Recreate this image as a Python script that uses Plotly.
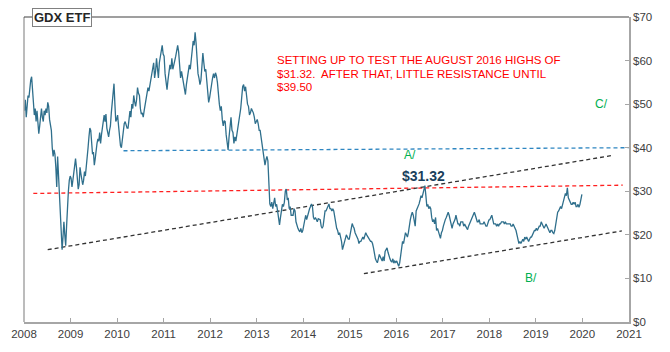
import numpy as np
import pandas as pd
import plotly.graph_objects as go

# ---- GDX weekly closes, one list per year ----
gdx_2008 = [48.5, 51.0, 47.0, 50.5, 52.0, 51.5, 54.0, 55.5, 56.3, 53.0, 48.5, 47.5,
            49.0, 46.0, 48.5, 44.5, 43.2, 45.0, 47.5, 49.0, 47.0, 46.0, 48.5, 47.5,
            49.0, 48.0, 50.4, 49.5, 46.5, 45.0, 44.0, 40.0, 38.0, 39.5, 38.5, 35.5,
            31.0, 38.0, 34.0, 29.0, 24.0, 20.0, 16.6, 19.5, 23.0, 20.0, 17.5, 22.0,
            27.0, 30.0, 32.5, 33.5]
gdx_2009 = [33.0, 31.0, 32.5, 34.5, 35.0, 37.5, 35.5, 33.0, 30.5, 31.5, 35.5, 34.0,
            33.0, 31.5, 32.5, 34.5, 33.5, 36.5, 38.0, 40.0, 42.5, 44.5, 44.0, 41.0,
            38.5, 39.0, 36.0, 37.5, 40.5, 41.0, 42.0, 41.5, 43.5, 41.0, 43.0, 44.8,
            46.5, 47.5, 46.0, 47.7, 44.5, 43.0, 42.5, 44.0, 45.0, 48.0, 50.0, 52.0,
            54.7, 50.0, 46.0, 46.5]
gdx_2010 = [47.5, 45.0, 42.0, 40.5, 40.0, 42.5, 44.0, 45.5, 46.0, 45.0, 44.5, 44.5,
            46.5, 48.4, 47.0, 50.0, 49.0, 52.0, 50.5, 49.5, 51.0, 53.8, 52.5, 52.0,
            49.0, 47.7, 48.0, 47.0, 48.5, 50.0, 51.5, 53.0, 53.8, 53.0, 54.5, 56.0,
            57.0, 58.0, 59.5, 56.0, 57.5, 60.5, 58.5, 56.0, 59.5, 61.0, 62.0, 63.5,
            61.5]
gdx_2011 = [61.0, 57.0, 54.5, 53.3, 55.5, 57.5, 59.0, 58.0, 60.5, 58.0, 59.5, 60.0,
            61.0, 62.0, 63.5, 62.0, 58.5, 56.0, 57.5, 56.0, 54.5, 53.5, 52.2, 54.5,
            56.0, 57.5, 59.0, 58.0, 60.5, 62.5, 64.5, 63.5, 66.5, 64.0, 60.0, 57.0,
            56.0, 54.5, 55.5, 58.5, 61.7, 59.5, 57.5, 58.0, 55.0, 52.0, 50.4, 51.5]
gdx_2012 = [53.5, 54.5, 56.0, 57.0, 56.0, 57.2, 56.5, 55.0, 51.5, 50.0, 48.5, 49.5,
            46.5, 45.0, 46.2, 46.0, 43.0, 40.5, 39.5, 42.5, 46.0, 47.0, 44.0, 43.5,
            41.0, 42.5, 41.5, 43.0, 44.0, 45.5, 47.5, 49.0, 51.5, 54.0, 54.5, 53.0,
            54.0, 51.5, 50.0, 49.5, 47.5, 48.0, 49.0, 48.5, 48.0, 47.0, 45.5, 46.0]
gdx_2013 = [46.5, 45.5, 44.0, 44.0, 42.5, 40.0, 38.5, 37.5, 36.0, 37.2, 38.0, 37.0,
            33.0, 27.1, 26.5, 27.5, 26.0, 27.0, 28.5, 26.5, 27.0, 25.5, 23.0, 22.3,
            24.0, 25.5, 27.0, 26.5, 27.5, 30.1, 30.5, 28.0, 28.5, 26.0, 26.5, 24.5,
            24.5, 24.5, 26.0, 25.5, 23.0, 22.0, 21.5, 21.0, 20.7, 21.5, 20.5, 21.0]
gdx_2014 = [22.0, 23.5, 24.5, 23.5, 24.5, 25.5, 26.0, 26.5, 27.1, 26.5, 24.0, 23.5,
            24.0, 23.5, 23.0, 23.7, 23.5, 23.5, 22.0, 21.5, 22.0, 24.0, 25.5, 25.5,
            26.0, 26.5, 27.1, 26.0, 26.0, 25.5, 26.0, 25.5, 24.0, 22.5, 21.5, 21.0,
            20.0, 20.5, 19.5, 18.5, 16.6, 17.5, 18.5, 19.0, 20.0, 19.5, 19.0, 19.0]
gdx_2015 = [20.0, 21.5, 22.6, 22.0, 21.5, 20.5, 20.0, 19.5, 19.0, 18.0, 18.5, 18.5,
            19.0, 19.5, 19.0, 20.0, 20.5, 20.0, 19.6, 19.5, 19.0, 18.5, 18.5, 18.0,
            17.0, 15.5, 14.5, 14.0, 13.6, 14.5, 15.5, 15.0, 14.5, 14.0, 15.0, 14.0,
            16.2, 16.5, 17.0, 16.0, 15.0, 14.5, 14.0, 13.8, 14.5, 13.5, 14.0, 13.7]
gdx_2016 = [14.0, 13.5, 12.8, 13.5, 15.5, 18.0, 18.5, 18.0, 19.5, 20.5, 20.0, 19.5,
            20.5, 22.3, 23.5, 24.5, 25.2, 24.5, 23.0, 22.0, 25.5, 26.0, 26.5, 27.1,
            28.0, 29.0, 28.5, 29.5, 30.8, 31.3, 29.0, 26.5, 27.0, 26.0, 26.5, 26.0,
            24.0, 23.0, 23.5, 22.5, 24.0, 21.0, 21.5, 20.5, 20.0, 19.2, 20.5, 21.0]
gdx_2017 = [22.0, 23.0, 23.5, 24.0, 24.5, 25.2, 24.5, 23.5, 22.0, 21.5, 22.5, 23.0,
            23.5, 24.5, 23.5, 22.5, 22.5, 22.0, 23.0, 23.0, 23.0, 22.0, 22.5, 22.0,
            21.5, 21.2, 22.0, 22.5, 23.0, 23.5, 24.0, 24.5, 25.2, 24.5, 23.5, 23.0,
            23.0, 23.5, 22.5, 22.5, 22.5, 22.5, 23.0, 22.5, 22.0, 22.0, 23.0, 23.4]
gdx_2018 = [23.5, 24.1, 24.5, 23.5, 22.5, 22.5, 22.5, 22.0, 22.5, 22.0, 22.5, 22.5,
            23.0, 23.0, 23.0, 22.5, 23.0, 22.5, 22.5, 22.5, 22.5, 22.5, 22.0, 22.0,
            22.5, 22.0, 21.2, 21.0, 20.0, 18.5, 18.0, 18.5, 18.0, 18.5, 19.0, 18.5,
            19.5, 19.0, 19.5, 19.0, 18.5, 19.0, 19.5, 19.5, 20.0, 20.5, 21.0, 21.0]
gdx_2019 = [21.5, 21.0, 21.5, 22.0, 22.0, 23.0, 22.5, 22.0, 21.5, 22.0, 22.5, 22.0,
            21.5, 21.0, 20.5, 21.0, 21.0, 20.5, 20.3, 21.0, 22.5, 23.5, 25.2, 25.5,
            26.0, 26.5, 26.0, 27.0, 28.0, 28.5, 29.5, 29.0, 30.8, 28.5, 28.0, 27.5,
            27.0, 27.0, 27.5, 27.0, 27.5, 26.5, 26.5, 27.0, 26.3, 27.0, 28.0, 29.3]

years = list(range(2008, 2020))
yearly = [gdx_2008, gdx_2009, gdx_2010, gdx_2011, gdx_2012, gdx_2013,
          gdx_2014, gdx_2015, gdx_2016, gdx_2017, gdx_2018, gdx_2019]

# ---- trend / resistance lines (endpoints) ----
line_A_dates = ["2008-07-05", "2020-08-18"]
line_A_vals = [16.6, 38.2]
line_B_dates = ["2015-04-22", "2020-11-06"]
line_B_vals = [11.1, 20.9]
red_dates = ["2008-03-14", "2020-11-13"]
red_vals = [29.5, 31.4]
blue_dates = ["2010-02-20", "2021-01-01"]
blue_vals = [39.3, 40.0]

x_ticks = [str(y) for y in range(2008, 2022)]
y_ticks = list(range(0, 80, 10))
y_ticktext = ["$" + str(v) for v in y_ticks]

# build date index: values spread evenly over each year
dates, prices = [], []
for y, vals in zip(years, yearly):
    start = pd.Timestamp(f"{y}-01-01")
    days = (pd.Timestamp(f"{y+1}-01-01") - start).days
    n = len(vals)
    for i, v in enumerate(vals):
        dates.append(start + pd.Timedelta(days=(i + 0.5) / n * days))
        prices.append(v)

fig = go.Figure()
dash = "4px,3px"
fig.add_trace(go.Scatter(x=blue_dates, y=blue_vals, mode="lines",
                         line=dict(color="#2E86C1", width=1.3, dash=dash), hoverinfo="skip"))
fig.add_trace(go.Scatter(x=red_dates, y=red_vals, mode="lines",
                         line=dict(color="#FF2020", width=1.3, dash=dash), hoverinfo="skip"))
fig.add_trace(go.Scatter(x=line_A_dates, y=line_A_vals, mode="lines",
                         line=dict(color="#333333", width=1.3, dash=dash), hoverinfo="skip"))
fig.add_trace(go.Scatter(x=line_B_dates, y=line_B_vals, mode="lines",
                         line=dict(color="#333333", width=1.3, dash=dash), hoverinfo="skip"))
fig.add_trace(go.Scatter(x=dates, y=prices, mode="lines",
                         line=dict(color="#2F6F8C", width=1.3)))

FONT = "Arial, Liberation Sans, sans-serif"
fig.update_layout(
    width=670, height=352,
    margin=dict(l=23, r=41, t=11, b=30),
    paper_bgcolor="white", plot_bgcolor="white",
    showlegend=False,
    font=dict(family=FONT, size=12, color="#404040"),
    xaxis=dict(type="date", range=["2008-01-01", "2021-01-01"],
               tickvals=[f"{t}-01-01" for t in x_ticks], ticktext=x_ticks,
               ticks="inside", ticklen=4, tickcolor="#A6A6A6",
               showline=True, linecolor="#A6A6A6", linewidth=1.5,
               showgrid=False, zeroline=False,
               tickfont=dict(size=11.5, color="#404040", family=FONT)),
    yaxis=dict(range=[0, 70], side="right", tickvals=y_ticks, ticktext=y_ticktext,
               ticks="inside", ticklen=4, tickcolor="#A6A6A6",
               showline=True, linecolor="#A6A6A6", linewidth=1.5,
               showgrid=False, zeroline=False,
               tickfont=dict(size=11.5, color="#404040", family=FONT)),
)

# frame: left (gray) and top (dark) edges
fig.add_shape(type="line", xref="paper", yref="paper", x0=0, x1=0, y0=0, y1=1,
              line=dict(color="#A6A6A6", width=1.5))
fig.add_shape(type="line", xref="paper", yref="paper", x0=0, x1=1, y0=1, y1=1,
              line=dict(color="#404040", width=1.2))

# title box
fig.add_annotation(text="<b>GDX ETF</b>", xref="paper", yref="paper",
                   x=0.0132, y=1.0, xanchor="left", yanchor="middle", showarrow=False,
                   font=dict(size=13, color="#262626", family=FONT),
                   bgcolor="white", bordercolor="#808080", borderwidth=1, borderpad=1)

red_lines = ["SETTING UP TO TEST THE AUGUST 2016 HIGHS OF",
             "$31.32.  AFTER THAT, LITTLE RESISTANCE UNTIL",
             "$39.50"]
red_y = [60.1, 56.95, 54.0]
for t, yy in zip(red_lines, red_y):
    fig.add_annotation(text=t, xref="paper", yref="y", x=(274 - 23) / 606, y=yy,
                       xanchor="left", yanchor="middle", showarrow=False,
                       font=dict(size=11.5, color="#FF0000", family=FONT))

fig.add_annotation(text="<b>$31.32</b>", x="2016-07-30", y=33.5, showarrow=False,
                   font=dict(size=14, color="#1A3F5C", family=FONT))
for lbl, xx, yy in [("A/", "2016-04-18", 38.3), ("B/", "2018-11-20", 10.1), ("C/", "2020-06-01", 50.0)]:
    fig.add_annotation(text=lbl, x=xx, y=yy, showarrow=False,
                       font=dict(size=12, color="#00B050", family=FONT))

fig.write_html("out.html")
